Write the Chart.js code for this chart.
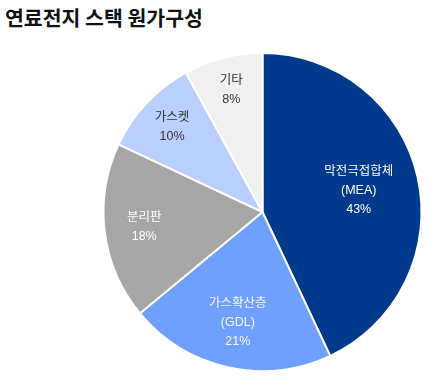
<!DOCTYPE html>
<html>
<head>
<meta charset="utf-8">
<script src="https://cdn.jsdelivr.net/npm/chart.js@4.4.0/dist/chart.umd.min.js"></script>
<style>
  html, body { margin: 0; padding: 0; background: #fff; }
  #wrap { position: relative; width: 439px; height: 383px; }
  #title {
    position: absolute; left: 5px; top: 2px;
    font-family: "Noto Sans CJK KR", sans-serif; font-weight: bold;
    font-size: 20.5px; color: #111; white-space: nowrap;
  }
  canvas { position: absolute; left: 0; top: 0; }
</style>
</head>
<body>
<div id="wrap">
  <div id="title">연료전지 스택 원가구성</div>
  <canvas id="cost-chart" width="439" height="383"></canvas>
</div>
<script>
// 스택 원가 구성 (%)
const categories = [['막전극접합체', '(MEA)'], ['가스확산층', '(GDL)'], ['분리판'], ['가스켓'], ['기타']];
const shares = [43, 21, 18, 10, 8];
const sliceColors = ['#003a8c', '#6f9fff', '#a6a6a6', '#b9cfff', '#f0f0f0'];
const labelColors = ['#ffffff', '#f4f7ff', '#ffffff', '#333333', '#333333'];
// 라벨 위치 (반지름 대비 비율)
const labelRadius = [0.62, 0.71, 0.75, 0.78, 0.79];

const sliceLabels = {
    id: 'sliceLabels',
    afterDatasetsDraw(chart) {
        const ctx = chart.ctx;
        const meta = chart.getDatasetMeta(0);
        ctx.save();
        ctx.font = '12.5px "Liberation Sans", "Noto Sans CJK KR", sans-serif';
        ctx.textAlign = 'center';
        ctx.textBaseline = 'middle';
        meta.data.forEach((arc, i) => {
            const mid = (arc.startAngle + arc.endAngle) / 2;
            const r = arc.outerRadius * labelRadius[i];
            const x = arc.x + Math.cos(mid) * r;
            const y = arc.y + Math.sin(mid) * r;
            const lines = categories[i].concat([shares[i] + '%']);
            const lh = 19;
            const y0 = y - (lines.length - 1) * lh / 2;
            ctx.fillStyle = labelColors[i];
            lines.forEach((t, k) => ctx.fillText(t, x, y0 + k * lh));
        });
        ctx.restore();
    }
};

const ctx = document.getElementById('cost-chart');
new Chart(ctx, {
    type: 'pie',
    data: {
        labels: categories.map(c => c.join(' ')),
        datasets: [{
            data: shares,
            backgroundColor: sliceColors,
            borderColor: '#ffffff',
            borderWidth: 2
        }]
    },
    options: {
        responsive: false,
        animation: false,
        layout: { padding: { left: 102, top: 52, right: 16, bottom: 11 } },
        plugins: {
            legend: { display: false },
            tooltip: { enabled: false }
        }
    },
    plugins: [sliceLabels]
});
</script>
</body>
</html>
